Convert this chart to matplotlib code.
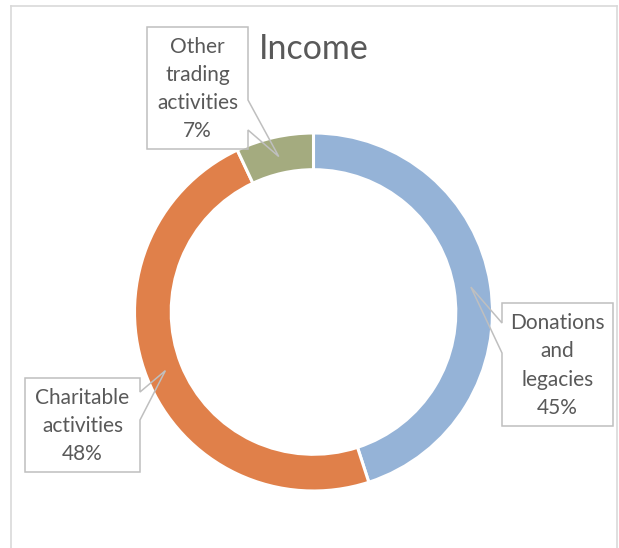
import numpy as np
import matplotlib.pyplot as plt
from matplotlib.patches import Polygon
from matplotlib.lines import Line2D

# data
labels = ['Donations\nand\nlegacies', 'Charitable\nactivities', 'Other\ntrading\nactivities']
values = [45, 48, 7]
colors = ['#95B3D7', '#E0804A', '#A4AB7F']
title = 'Income'

W, H = 619, 548
CX, CY, R = 313.5, 312.0, 179.0  # pie centre / radius in pixels


def px(x, y):
    # pixel (from top-left) -> data coords
    return (x - CX) / R, (CY - y) / R


fig = plt.figure(figsize=(W / 100, H / 100), dpi=100)
ax = fig.add_axes([0, 0, 1, 1])
wedges, _ = ax.pie(values, colors=colors, startangle=90, counterclock=False,
                   radius=1, wedgeprops=dict(width=0.205, edgecolor='white', linewidth=2.2))
x0, y0 = px(0, H)
x1, y1 = px(W, 0)
ax.set_xlim(x0, x1)
ax.set_ylim(y0, y1)
ax.set_aspect('auto')
ax.axis('off')

ax.text(*px(314, 49), title, ha='center', va='center', fontsize=24.5,
        color='#595959', family='Lato')

# callout boxes: (left, top, right, bottom), pointer side, pointer y-range
boxes = [
    ((502, 303, 613, 426), 'left', (323, 353)),
    ((25, 378, 140, 472), 'right', (392, 420)),
    ((147, 27, 248, 149), 'right', (100, 130)),
]

total = sum(values)
for w, lab, v, (bx, side, (py0, py1)) in zip(wedges, labels, values, boxes):
    ang = np.deg2rad((w.theta1 + w.theta2) / 2)
    tip = (0.89 * np.cos(ang), 0.89 * np.sin(ang))
    l, t, r, b = bx
    if side == 'right':
        pts = [px(l, t), px(r, t), px(r, py0), tip, px(r, py1), px(r, b), px(l, b)]
    else:
        pts = [px(l, t), px(r, t), px(r, b), px(l, b), px(l, py1), tip, px(l, py0)]
    ax.add_patch(Polygon(pts, closed=True, facecolor='none', edgecolor='#BFBFBF',
                         linewidth=1.1, zorder=5))
    txt = f'{lab}\n{v / total * 100:.0f}%'
    ax.text(*px((l + r) / 2, (t + b) / 2 + 1), txt, ha='center', va='center',
            fontsize=15, color='#595959', family='Lato', linespacing=1.52, zorder=6)

# chart frame
frame = dict(color='#D9D9D9', linewidth=1.2, transform=fig.transFigure)
fx0, fx1, fy = 10.5 / W, 617 / W, 1 - 5.5 / H
fig.add_artist(Line2D([fx0, fx0], [0, fy], **frame))
fig.add_artist(Line2D([fx0, fx1], [fy, fy], **frame))
fig.add_artist(Line2D([fx1, fx1], [fy, 0], **frame))

fig.savefig('out.png', dpi=100)
